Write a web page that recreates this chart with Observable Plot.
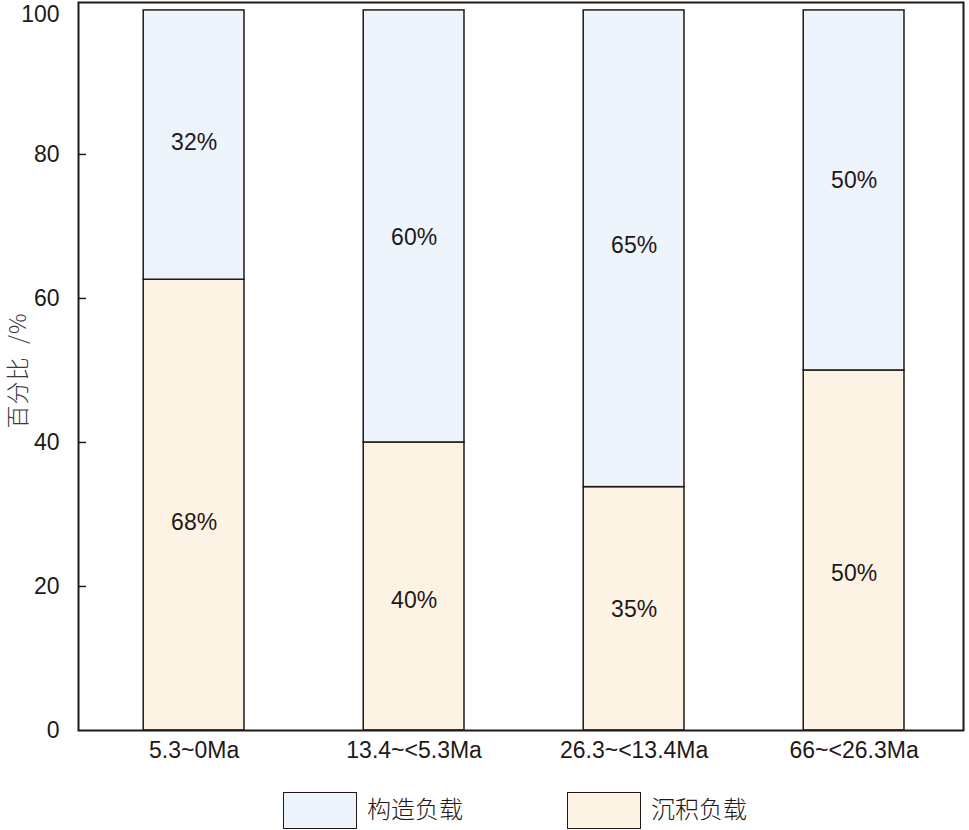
<!DOCTYPE html>
<html>
<head>
<meta charset="utf-8">
<script src="https://cdn.jsdelivr.net/npm/d3@7"></script>
<script src="https://cdn.jsdelivr.net/npm/@observablehq/plot@0.6"></script>
<style>
  body { margin: 0; background: #fff; font-family: "Liberation Sans", Arial, "Noto Sans CJK SC", sans-serif; }
  #chart { width: 969px; }
  .legend { position: relative; height: 45px; width: 969px; }
  .legend .box { position: absolute; top: 7px; width: 72px; height: 35px; border: 1.5px solid #231815; }
  .legend .lab { position: absolute; top: 5px; font-family: "Noto Sans CJK SC", sans-serif; font-size: 24px; font-weight: 300; color: #231815; line-height: 36px; }
  .ylab text { letter-spacing: 1px; }
</style>
</head>
<body>
<div id="chart"></div>
<div class="legend" id="legend"></div>
<script>
const categories = ["5.3~0Ma", "13.4~<5.3Ma", "26.3~<13.4Ma", "66~<26.3Ma"];
const sediment = [62.6, 40, 33.8, 50];      // 沉积负载 segment height
const tectonic = [37.4, 60, 66.2, 50];      // 构造负载 segment height
const sedimentLabels = ["68%", "40%", "35%", "50%"];
const tectonicLabels = ["32%", "60%", "65%", "50%"];
const sedimentLabelY = [28.9, 18.1, 16.8, 21.8];
const tectonicLabelY = [81.7, 68.5, 67.4, 76.3];
const yTicks = [0, 20, 40, 60, 80];
const yTopTick = [100];
const seriesNames = ["构造负载", "沉积负载"];
const seriesColors = ["#edf4fc", "#fdf3e4"];
const yLabel = "百分比\u2002/%";
const ink = "#231815";

const rows = categories.map((c, i) => ({
  cat: c,
  sed: sediment[i],
  top: sediment[i] + tectonic[i],
  sedLab: sedimentLabels[i],
  tecLab: tectonicLabels[i],
  sedY: sedimentLabelY[i],
  tecY: tectonicLabelY[i]
}));

const chart = Plot.plot({
  width: 969,
  height: 785,
  marginLeft: 78,
  marginRight: 6,
  marginTop: 2,
  marginBottom: 55,
  style: { fontFamily: '"Liberation Sans", Arial, sans-serif', fontSize: "23px", color: ink, background: "#fff" },
  x: { domain: categories, paddingInner: 0.542, paddingOuter: 0.2824, align: 0.525, round: false, label: null },
  y: { domain: [0, 101.1], label: null },
  marks: [
    Plot.barY(rows, { x: "cat", y1: 0, y2: "sed", fill: seriesColors[1], stroke: ink, strokeWidth: 1.5 }),
    Plot.barY(rows, { x: "cat", y1: "sed", y2: "top", fill: seriesColors[0], stroke: ink, strokeWidth: 1.5 }),
    Plot.text(rows, { x: "cat", y: "sedY", text: "sedLab", fontSize: 23, fill: ink }),
    Plot.text(rows, { x: "cat", y: "tecY", text: "tecLab", fontSize: 23, fill: ink }),
    Plot.axisY({ ticks: yTicks, tickSize: 0, tickPadding: 19, fontSize: 23, fill: ink }),
    Plot.axisY({ ticks: yTopTick, tickSize: 0, tickPadding: 19, dy: 4, fontSize: 23, fill: ink }),
    Plot.axisY({ ticks: [20, 40, 60, 80], tickSize: -8, text: null, stroke: ink, strokeWidth: 1.5 }),
    Plot.axisX({ tickSize: 0, tickPadding: 11, fontSize: 23, fill: ink }),
    Plot.frame({ stroke: ink, strokeWidth: 2 }),
    Plot.text([yLabel], { frameAnchor: "left", dx: -60, dy: 4, rotate: -90, textAnchor: "middle", fontSize: 23, fill: "#3a3a3a", fontFamily: '"Noto Sans CJK SC", sans-serif', fontWeight: 300, className: "ylab" })
  ]
});
document.getElementById("chart").appendChild(chart);

const legend = document.getElementById("legend");
const legendX = [283, 567];
seriesNames.forEach((name, i) => {
  const b = document.createElement("div");
  b.className = "box";
  b.style.left = legendX[i] + "px";
  b.style.background = seriesColors[i];
  legend.appendChild(b);
  const t = document.createElement("div");
  t.className = "lab";
  t.style.left = (legendX[i] + 84) + "px";
  t.textContent = name;
  legend.appendChild(t);
});
</script>
</body>
</html>
